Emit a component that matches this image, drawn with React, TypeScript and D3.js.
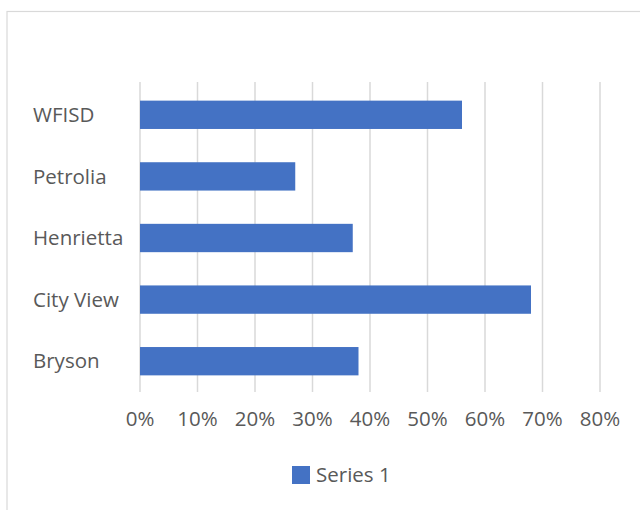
import React from "react";
import * as d3 from "d3";

const categories = ["WFISD", "Petrolia", "Henrietta", "City View", "Bryson"];
const values = [0.56, 0.27, 0.37, 0.68, 0.38];
const ticks = [0, 0.1, 0.2, 0.3, 0.4, 0.5, 0.6, 0.7, 0.8];
const seriesName = "Series 1";

const W = 640;
const H = 510;
const font = "'Open Sans', 'Noto Sans', sans-serif";

export default function App() {
  const x = d3.scaleLinear().domain([0, 0.8]).range([140, 600]);
  const y = d3.scaleBand<string>().domain(categories).range([84, 392]).paddingInner(0.54).paddingOuter(0.27);
  const fmt = d3.format(".0%");
  return (
    <svg width={W} height={H} style={{ position: "absolute", left: 0, top: 0 }} fontFamily={font}>
      <rect x={0} y={0} width={W} height={H} fill="#fff" />
      <rect x={7} y={11.5} width={W + 10} height={H + 10} fill="none" stroke="#d9d9d9" strokeWidth={1.2} />
      {ticks.map((t) => (
        <line key={t} x1={x(t)} x2={x(t)} y1={82} y2={392} stroke="#d9d9d9" strokeWidth={1.5} />
      ))}
      {categories.map((c, i) => (
        <rect key={c} x={x(0)} y={y(c)} width={x(values[i]) - x(0)} height={y.bandwidth()} fill="#4472c4" />
      ))}
      {categories.map((c) => (
        <text key={c} x={33} y={(y(c) as number) + y.bandwidth() / 2} dy="0.35em" fontSize={20.5} fill="#595959">
          {c}
        </text>
      ))}
      {ticks.map((t) => (
        <text key={t} x={x(t)} y={419} dy="0.35em" textAnchor="middle" fontSize={20.5} fill="#595959">
          {fmt(t)}
        </text>
      ))}
      <rect x={292} y={466} width={18} height={18} fill="#4472c4" />
      <text x={316} y={475} dy="0.35em" fontSize={20.5} fill="#595959">
        {seriesName}
      </text>
    </svg>
  );
}
